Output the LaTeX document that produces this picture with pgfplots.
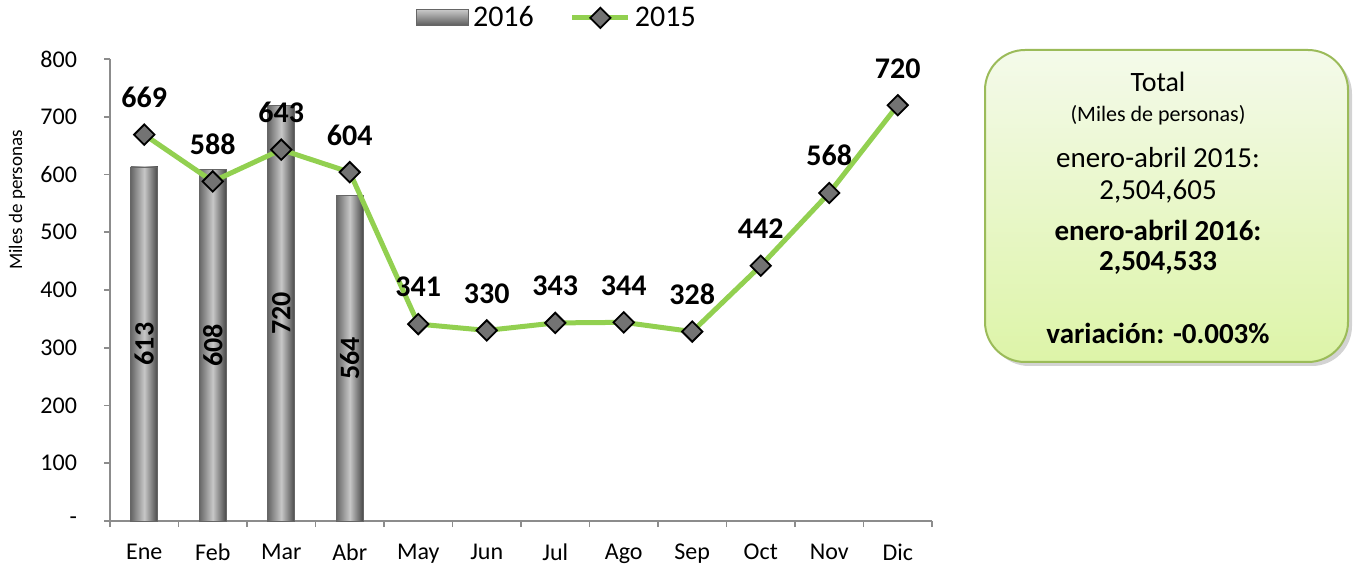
\documentclass[border=0pt]{standalone}
\usepackage{pgfplots}
\pgfplotsset{compat=1.18}
\usepackage{fontspec}
\setmainfont{Carlito}
\usetikzlibrary{shadows}
\definecolor{lgreen}{HTML}{92D050}
\definecolor{boxborder}{HTML}{9BBB59}
\definecolor{boxtop}{HTML}{F4FAEA}
\definecolor{boxbot}{HTML}{DDF4A8}
\newcommand{\fs}[1]{\fontsize{#1}{#1}\selectfont}
\pgfplotsset{
  mylineleg/.style={legend image code/.code={\draw[mark repeat=2,mark phase=2,##1] plot coordinates {(0pt,0pt) (14pt,0pt) (28pt,0pt)};}},
  mybar/.style={ybar, bar width=13.5pt, draw=black!60, line width=0.4pt,
    left color=black!60, right color=black!72, middle color=black!22,
    nodes near coords={\rotatebox{90}{\pgfmathprintnumber{\pgfplotspointmeta}}},
    visualization depends on=y \as \rawy,
    every node near coord/.append style={font=\bfseries\fs{14}, text=black, anchor=center, inner sep=0pt, yshift={-\rawy*0.144375pt}},
    legend image code/.code={\draw[draw=black!60, top color=black!22, bottom color=black!65] (0pt,-4pt) rectangle (26pt,4pt);}},
}
\begin{document}
\begin{tikzpicture}
\useasboundingbox (0,0) rectangle (678pt,284pt);
\begin{axis}[
  at={(55pt,23.5pt)}, anchor=south west,
  scale only axis, width=411pt, height=231pt,
  xmin=-0.5, xmax=11.5, ymin=0, ymax=800,
  clip=false,
  separate axis lines,
  axis x line*=bottom, axis y line*=left,
  axis line style={draw=black!45, line width=0.8pt},
  tick align=outside,
  tick style={draw=black!45, line width=0.8pt},
  major tick length=3pt, minor tick length=3pt,
  ytick={0,100,...,800},
  yticklabels={-\hspace{5pt},100,200,300,400,500,600,700,800},
  xtick={0,...,11},
  xticklabels={Ene,Feb,Mar,Abr,May,Jun,Jul,Ago,Sep,Oct,Nov,Dic},
  major x tick style={draw=none},
  minor xtick={-0.5,0.5,...,11.5},
  ticklabel style={font=\fs{12}},
  xticklabel style={yshift=-5pt},
  yticklabel style={xshift=-10pt},
  /pgf/number format/assume math mode=true,
  ylabel={Miles de personas},
  ylabel style={font=\fs{9.5}, at={(axis description cs:-0.113,0.695)}, anchor=center},
  legend style={at={(0.545,1.089)}, anchor=center, draw=none, fill=none,
    font=\fs{15}, legend columns=2,
    /tikz/every even column/.append style={column sep=16pt}},
  legend cell align=left,
]
\addplot[mybar] coordinates {(0,613)};
\addlegendentry{2016}
\addplot[mybar, forget plot] coordinates {(1,608)};
\addplot[mybar, forget plot] coordinates {(2,720)};
\addplot[mybar, forget plot] coordinates {(3,564)};
\addplot[lgreen, line width=2.5pt, mark=square*, mark size=3.6pt,
  mark options={rotate=45, draw=black, line width=0.9pt, fill=black!55},
  nodes near coords,
  every node near coord/.append style={font=\bfseries\fs{15}, text=black, anchor=south, inner sep=0pt, yshift=13pt},
  mylineleg
] coordinates {(0,669) (1,588) (2,643) (3,604) (4,341) (5,330) (6,343) (7,344) (8,328) (9,442) (10,568) (11,720)};
\addlegendentry{2015}
\end{axis}
\draw[boxborder, line width=1pt, rounded corners=20pt, top color=boxtop, bottom color=boxbot,
  drop shadow={shadow xshift=2pt, shadow yshift=-2pt, opacity=0.35}]
  (492.5pt,103pt) rectangle (674pt,259pt);
\node[font=\fs{14}] at (579pt,243pt) {Total};
\node[font=\fs{11}] at (579pt,226.5pt) {(Miles de personas)};
\node[font=\fs{14.5}] at (579pt,205pt) {enero-abril 2015:};
\node[font=\fs{14.5}] at (579pt,188pt) {2,504,605};
\node[font=\bfseries\fs{14.5}] at (579pt,169pt) {enero-abril 2016:};
\node[font=\bfseries\fs{14.5}] at (579pt,152.5pt) {2,504,533};
\node[font=\bfseries\fs{14.5}] at (579pt,117.5pt) {variación: -0.003\%};
\end{tikzpicture}
\end{document}
